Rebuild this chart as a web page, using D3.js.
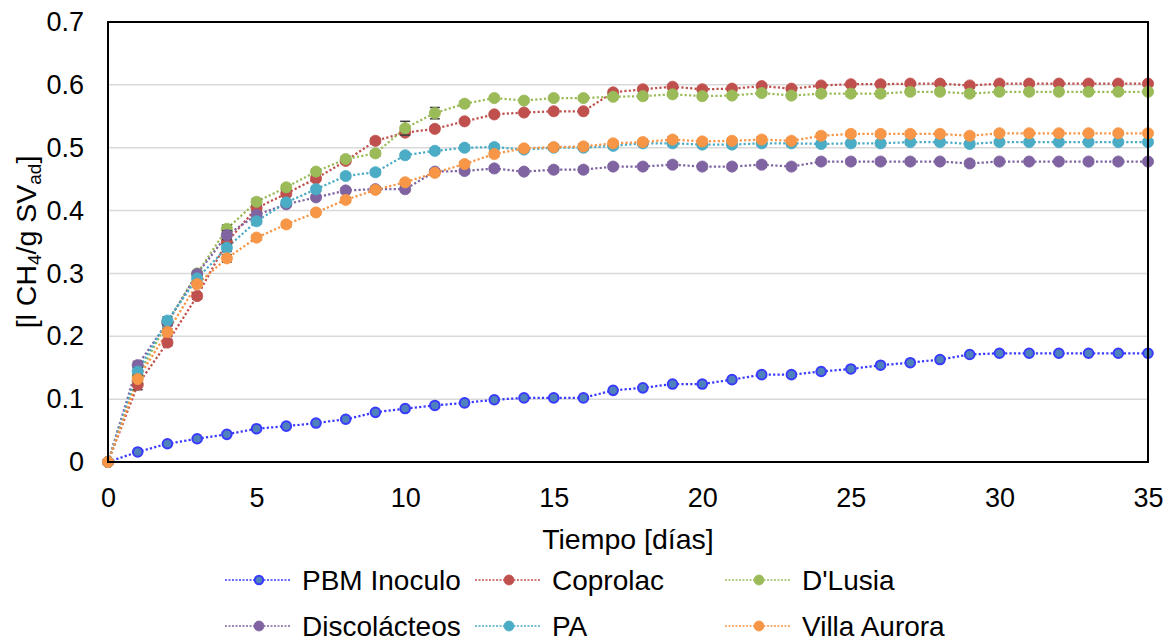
<!DOCTYPE html>
<html>
<head>
<meta charset="utf-8">
<script src="https://cdn.jsdelivr.net/npm/d3@7"></script>
<style>
  body { margin: 0; background: #fff; }
  text { font-family: "Liberation Sans", Arial, sans-serif; fill: #000; }
</style>
</head>
<body>
<div id="chart"></div>
<script>
// days (x values)
var days = [0,1,2,3,4,5,6,7,8,9,10,11,12,13,14,15,16,17,18,19,20,21,22,23,24,25,26,27,28,29,30,31,32,33,34,35];

var xTicks = [0,5,10,15,20,25,30,35];
var yTicks = [0,0.1,0.2,0.3,0.4,0.5,0.6,0.7];

var seriesNames = ["PBM Inoculo","Coprolac","D'Lusia","Discolácteos","PA","Villa Aurora"];

var pbmInoculo = [0,0.016,0.029,0.037,0.044,0.053,0.057,0.062,0.068,0.079,0.085,0.090,0.094,0.099,0.102,0.102,0.102,0.114,0.118,0.124,0.124,0.131,0.139,0.139,0.144,0.148,0.154,0.158,0.163,0.171,0.173,0.173,0.173,0.173,0.173,0.173];
var coprolac   = [0,0.123,0.190,0.264,0.350,0.404,0.427,0.451,0.479,0.511,0.524,0.530,0.542,0.553,0.556,0.558,0.558,0.588,0.593,0.597,0.593,0.594,0.598,0.594,0.599,0.601,0.601,0.602,0.602,0.599,0.602,0.602,0.602,0.602,0.602,0.602];
var dLusia     = [0,0.136,0.222,0.300,0.371,0.414,0.437,0.462,0.482,0.491,0.531,0.555,0.570,0.579,0.575,0.579,0.579,0.581,0.582,0.585,0.582,0.583,0.587,0.583,0.586,0.586,0.586,0.589,0.589,0.586,0.589,0.589,0.589,0.589,0.589,0.589];
var discolacteos = [0,0.154,0.222,0.299,0.361,0.393,0.410,0.421,0.432,0.434,0.434,0.462,0.463,0.467,0.462,0.465,0.465,0.470,0.470,0.473,0.470,0.470,0.473,0.470,0.478,0.478,0.478,0.478,0.478,0.475,0.478,0.478,0.478,0.478,0.478,0.478];
var pa         = [0,0.144,0.225,0.292,0.341,0.383,0.413,0.434,0.455,0.461,0.488,0.495,0.500,0.501,0.497,0.500,0.500,0.503,0.507,0.507,0.505,0.505,0.507,0.507,0.506,0.507,0.507,0.509,0.509,0.506,0.509,0.509,0.509,0.509,0.509,0.509];
var villaAurora = [0,0.132,0.207,0.283,0.324,0.357,0.378,0.397,0.417,0.433,0.445,0.460,0.474,0.490,0.499,0.501,0.502,0.507,0.509,0.513,0.510,0.511,0.513,0.511,0.519,0.522,0.522,0.522,0.522,0.519,0.523,0.523,0.523,0.523,0.523,0.523];

// error bar half-widths (estimated)
var pbmErr   = [0,0.002,0.002,0.002,0.003,0.002,0.002,0.003,0.002,0.002,0.003,0.002,0.002,0.002,0.002,0.002,0.002,0.002,0.002,0.002,0.002,0.002,0.003,0.003,0.002,0.002,0.002,0.002,0.002,0.002,0.002,0.002,0.002,0.002,0.002,0.002];
var coprErr  = [0,0.008,0.005,0.005,0.007,0.005,0.004,0.004,0.004,0.004,0.004,0.004,0.003,0.003,0.003,0.003,0.003,0.004,0.003,0.003,0.003,0.003,0.003,0.003,0.003,0.003,0.003,0.003,0.004,0.004,0.003,0.003,0.003,0.003,0.003,0.003];
var dlusErr  = [0,0.006,0.005,0.004,0.006,0.005,0.004,0.004,0.004,0.004,0.011,0.009,0.004,0.003,0.003,0.003,0.003,0.004,0.004,0.003,0.003,0.003,0.003,0.003,0.004,0.004,0.004,0.004,0.004,0.004,0.003,0.003,0.003,0.003,0.003,0.003];
var discErr  = [0,0.006,0.005,0.004,0.007,0.005,0.004,0.004,0.004,0.004,0.004,0.004,0.004,0.004,0.004,0.004,0.004,0.004,0.004,0.004,0.004,0.004,0.004,0.004,0.004,0.004,0.004,0.004,0.004,0.004,0.003,0.003,0.003,0.003,0.003,0.003];
var paErr    = [0,0.006,0.006,0.004,0.006,0.004,0.004,0.004,0.004,0.004,0.004,0.004,0.004,0.004,0.004,0.004,0.004,0.004,0.004,0.004,0.004,0.004,0.004,0.004,0.004,0.004,0.004,0.004,0.004,0.004,0.003,0.003,0.003,0.003,0.003,0.003];
var villErr  = [0,0.006,0.005,0.004,0.006,0.004,0.004,0.004,0.004,0.004,0.004,0.004,0.004,0.004,0.004,0.004,0.004,0.004,0.004,0.004,0.004,0.004,0.004,0.004,0.004,0.004,0.004,0.004,0.004,0.004,0.003,0.003,0.003,0.003,0.003,0.003];

var seriesValues = [pbmInoculo, coprolac, dLusia, discolacteos, pa, villaAurora];
var seriesErrors = [pbmErr, coprErr, dlusErr, discErr, paErr, villErr];
var lineColors   = ["#3a3aff","#c0504d","#9bbb59","#8064a2","#4bacc6","#f79646"];
var fillColors   = ["#4f81bd","#c0504d","#9bbb59","#8064a2","#4bacc6","#f79646"];
var strokeColors = ["#3a3aff","#c0504d","#9bbb59","#8064a2","#4bacc6","#f79646"];

// set the dimensions and margins of the graph
var margin = {top: 22, right: 28, bottom: 181, left: 108},
    width = 1176 - margin.left - margin.right,
    height = 643 - margin.top - margin.bottom;

var root = d3.select("#chart")
  .append("svg")
    .attr("width", 1176)
    .attr("height", 643);

var svg = root.append("g")
    .attr("transform", "translate(" + margin.left + "," + margin.top + ")");

var x = d3.scaleLinear().domain([0, 35]).range([0, width]);
var y = d3.scaleLinear().domain([0, 0.7]).range([height, 0]);

// gridlines
svg.append("g")
  .selectAll("line")
  .data(yTicks.slice(1))
  .enter().append("line")
    .attr("x1", 0).attr("x2", width)
    .attr("y1", function(d) { return y(d); })
    .attr("y2", function(d) { return y(d); })
    .attr("stroke", "#d9d9d9")
    .attr("stroke-width", 1.5);

// axes (labels only, no tick marks)
var yAxis = svg.append("g")
  .call(d3.axisLeft(y).tickValues(yTicks).tickSize(0).tickPadding(24)
    .tickFormat(function(d) { return d === 0 ? "0" : d.toFixed(1); }));
yAxis.select(".domain").remove();
yAxis.selectAll("text").style("font-size", "27px").style("font-family", "'Liberation Sans', Arial, sans-serif");

var xAxis = svg.append("g")
  .attr("transform", "translate(0," + height + ")")
  .call(d3.axisBottom(x).tickValues(xTicks).tickSize(0).tickPadding(26)
    .tickFormat(d3.format("d")));
xAxis.select(".domain").remove();
xAxis.selectAll("text").style("font-size", "27px").style("font-family", "'Liberation Sans', Arial, sans-serif");

// series lines
var line = d3.line()
  .x(function(d, i) { return x(days[i]); })
  .y(function(d) { return y(d); });

seriesValues.forEach(function(vals, s) {
  svg.append("path")
    .datum(vals)
    .attr("fill", "none")
    .attr("stroke", lineColors[s])
    .attr("stroke-width", 2.25)
    .attr("stroke-dasharray", "2.2,2.2")
    .attr("d", line);
});

// error bars + markers, series by series
seriesValues.forEach(function(vals, s) {
  var g = svg.append("g");
  var err = seriesErrors[s];
  var pts = vals.map(function(v, i) { return {x: days[i], v: v, e: err[i]}; });
  var eb = g.selectAll(".eb").data(pts.filter(function(d) { return d.e > 0; }))
    .enter().append("g").attr("class", "eb")
    .attr("stroke", "#404040").attr("stroke-width", 1.5);
  eb.append("line")
    .attr("x1", function(d) { return x(d.x); }).attr("x2", function(d) { return x(d.x); })
    .attr("y1", function(d) { return y(d.v - d.e); }).attr("y2", function(d) { return y(d.v + d.e); });
  eb.append("line")
    .attr("x1", function(d) { return x(d.x) - 5; }).attr("x2", function(d) { return x(d.x) + 5; })
    .attr("y1", function(d) { return y(d.v + d.e); }).attr("y2", function(d) { return y(d.v + d.e); });
  eb.append("line")
    .attr("x1", function(d) { return x(d.x) - 5; }).attr("x2", function(d) { return x(d.x) + 5; })
    .attr("y1", function(d) { return y(d.v - d.e); }).attr("y2", function(d) { return y(d.v - d.e); });
  g.selectAll("circle").data(pts)
    .enter().append("circle")
      .attr("cx", function(d) { return x(d.x); })
      .attr("cy", function(d) { return y(d.v); })
      .attr("r", s === 0 ? 4.8 : 5.6)
      .attr("fill", fillColors[s])
      .attr("stroke", strokeColors[s])
      .attr("stroke-width", s === 0 ? 2 : 0.8);
});

// plot frame
svg.append("rect")
  .attr("x", 0).attr("y", 0)
  .attr("width", width).attr("height", height)
  .attr("fill", "none")
  .attr("stroke", "#000")
  .attr("stroke-width", 2);

// axis titles
root.append("text")
  .attr("x", margin.left + width / 2)
  .attr("y", 549)
  .attr("text-anchor", "middle")
  .style("font-size", "28.5px")
  .text("Tiempo [días]");

var yl = root.append("text")
  .attr("transform", "translate(36," + (margin.top + height / 2) + ") rotate(-90)")
  .attr("text-anchor", "middle")
  .style("font-size", "28.5px");
yl.append("tspan").text("[l CH");
yl.append("tspan").attr("baseline-shift", "-25%").style("font-size", "19px").text("4");
yl.append("tspan").text("/g SV");
yl.append("tspan").attr("baseline-shift", "-25%").style("font-size", "19px").text("ad");
yl.append("tspan").text("]");

// legend
var legendCols = [225, 475, 725];
var legendRows = [580, 626];
seriesNames.forEach(function(name, s) {
  var lx = legendCols[s % 3], ly = legendRows[Math.floor(s / 3)];
  var lg = root.append("g").attr("transform", "translate(" + lx + "," + ly + ")");
  lg.append("line")
    .attr("x1", 0).attr("x2", 66).attr("y1", 0).attr("y2", 0)
    .attr("stroke", lineColors[s]).attr("stroke-width", 1.5)
    .attr("stroke-dasharray", "2,1.5");
  lg.append("circle")
    .attr("cx", 34).attr("cy", 0).attr("r", s === 0 ? 4.2 : 5)
    .attr("fill", fillColors[s]).attr("stroke", strokeColors[s])
    .attr("stroke-width", s === 0 ? 2 : 0.8);
  lg.append("text")
    .attr("x", 77).attr("y", 9.5)
    .style("font-size", "28px")
    .text(name);
});
</script>
</body>
</html>
